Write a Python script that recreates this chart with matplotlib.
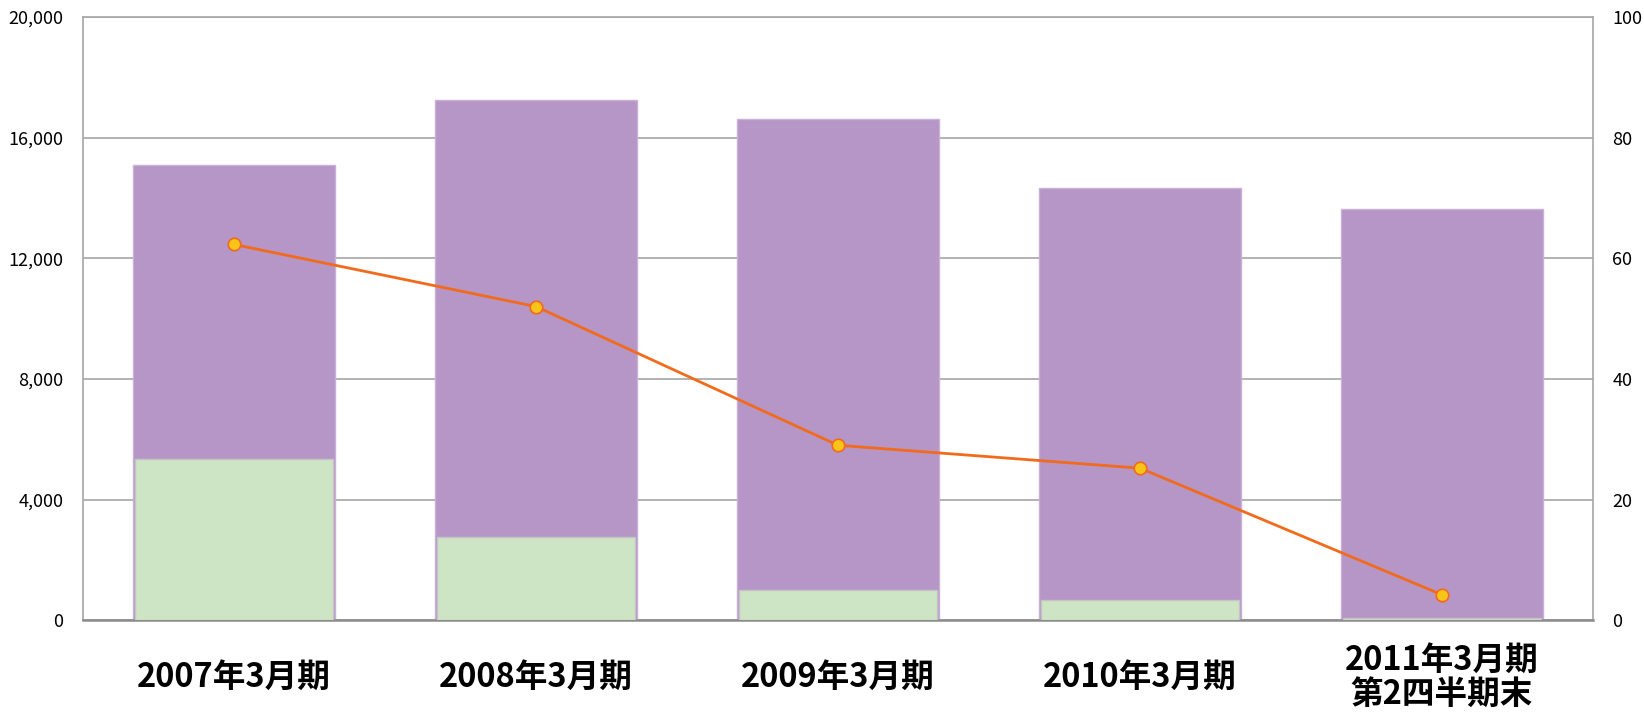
import numpy as np
import matplotlib.pyplot as plt
from matplotlib.ticker import FuncFormatter

plt.rcParams['font.family'] = ['Noto Sans CJK JP', 'DejaVu Sans']

categories = ['2007年3月期', '2008年3月期', '2009年3月期', '2010年3月期', '2011年3月期\n第2四半期末']
total = [15080, 17250, 16620, 14320, 13640]
inner = [5360, 2750, 1010, 660, 70]
ratio = [62.3, 52.0, 29.0, 25.2, 4.2]

x = np.arange(len(categories))

fig = plt.figure(figsize=(16.44, 7.12), dpi=100)
ax = fig.add_axes([0.0505, 0.129, 0.9185, 0.847])

ax.bar(x, total, width=0.67, color='#b696c6', edgecolor='#c9b0d6', linewidth=1, zorder=2)
ax.bar(x, inner, width=0.655, color='#cde5c5', edgecolor='#c4c4c4', linewidth=1, zorder=3)

ax.set_xlim(-0.5, len(categories) - 0.5)
ax.set_ylim(0, 20000)
ax.set_yticks(np.arange(0, 20001, 4000))
ax.yaxis.set_major_formatter(FuncFormatter(lambda v, p: f'{int(v):,}'))
ax.grid(axis='y', color='#a6a6a6', linewidth=1.2, zorder=1)
ax.set_axisbelow(True)
ax.set_xticks(x)
ax.set_xticklabels(categories, fontsize=23.5, fontweight='bold', linespacing=1.03)
for lab in ax.get_xticklabels():
    lab.set_verticalalignment('center')
ax.tick_params(axis='x', length=0, pad=41)
ax.tick_params(axis='y', length=0, labelsize=13, pad=14)

for side in ['left', 'right', 'top']:
    ax.spines[side].set_color('#a6a6a6')
    ax.spines[side].set_linewidth(1.2)
ax.spines['bottom'].set_color('#8c8c8c')
ax.spines['bottom'].set_linewidth(1.8)

ax2 = ax.twinx()
ax2.plot(x, ratio, color='#f26a1b', linewidth=2, marker='o', markersize=9,
         markerfacecolor='#f9c41a', markeredgecolor='#f26a1b', markeredgewidth=1.2, zorder=5)
ax2.set_ylim(0, 100)
ax2.set_yticks(np.arange(0, 101, 20))
ax2.tick_params(axis='y', length=0, labelsize=13, pad=14)
for s in ax2.spines.values():
    s.set_visible(False)

fig.savefig('out.png', dpi=100)
